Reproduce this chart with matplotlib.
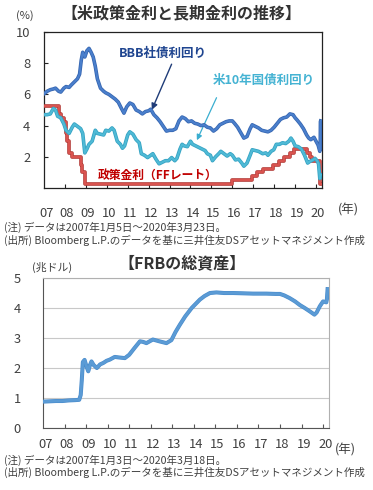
import matplotlib
matplotlib.use("Agg")
import matplotlib.pyplot as plt
import matplotlib.patheffects as pe

plt.rcParams['font.family'] = ['Noto Sans CJK JP', 'DejaVu Sans']

# --- data: top chart (year as decimal, %) ---
bbb_t = [2007.01, 2007.15, 2007.3, 2007.45, 2007.55, 2007.7, 2007.8, 2007.95,
         2008.05, 2008.2, 2008.3, 2008.45, 2008.6, 2008.7, 2008.78, 2008.85,
         2008.95, 2009.05, 2009.15, 2009.25, 2009.35, 2009.45, 2009.55, 2009.7,
         2009.85, 2009.95, 2010.1, 2010.25, 2010.4, 2010.55, 2010.7, 2010.82,
         2010.95, 2011.1, 2011.25, 2011.4, 2011.55, 2011.7, 2011.85, 2012.0,
         2012.1, 2012.25, 2012.4, 2012.55, 2012.7, 2012.85, 2013.0, 2013.15,
         2013.3, 2013.45, 2013.6, 2013.75, 2013.9, 2014.05, 2014.2, 2014.35,
         2014.5, 2014.65, 2014.8, 2014.95, 2015.1, 2015.25, 2015.4, 2015.55,
         2015.7, 2015.85, 2016.0, 2016.1, 2016.25, 2016.4, 2016.55, 2016.7,
         2016.85, 2016.95, 2017.1, 2017.25, 2017.4, 2017.55, 2017.7, 2017.85,
         2018.0, 2018.15, 2018.3, 2018.45, 2018.6, 2018.75, 2018.9, 2019.0,
         2019.1, 2019.25, 2019.4, 2019.55, 2019.65, 2019.75, 2019.9, 2020.0,
         2020.1, 2020.18, 2020.2, 2020.21, 2020.22]
bbb_v = [6.05, 6.2, 6.3, 6.35, 6.4, 6.2, 6.15, 6.4,
         6.5, 6.45, 6.6, 6.8, 7.0, 7.3, 8.2, 8.7,
         8.4, 8.8, 8.95, 8.7, 8.4, 7.8, 7.0, 6.4,
         6.2, 6.1, 6.0, 5.85, 5.7, 5.5, 5.1, 4.8,
         5.2, 5.45, 5.35, 5.0, 4.9, 4.75, 4.9, 4.95,
         5.05, 4.7, 4.5, 4.25, 3.95, 3.65, 3.7, 3.7,
         3.8, 4.3, 4.55, 4.45, 4.25, 4.3, 4.15, 4.1,
         4.0, 4.05, 3.9, 3.85, 3.65, 3.8, 4.05, 4.15,
         4.25, 4.3, 4.3, 4.15, 3.9, 3.55, 3.2, 3.3,
         3.8, 4.05, 3.95, 3.85, 3.7, 3.65, 3.6, 3.7,
         3.9, 4.15, 4.4, 4.5, 4.55, 4.75, 4.7, 4.5,
         4.35, 4.1, 3.8, 3.4, 3.2, 3.1, 3.25, 3.0,
         2.75, 2.35, 2.5, 4.25, 4.3]

ust_t = [2007.01, 2007.15, 2007.3, 2007.45, 2007.55, 2007.65, 2007.8, 2007.95,
         2008.05, 2008.2, 2008.35, 2008.45, 2008.6, 2008.75, 2008.85, 2008.95,
         2009.05, 2009.15, 2009.3, 2009.45, 2009.55, 2009.7, 2009.85, 2009.95,
         2010.1, 2010.25, 2010.35, 2010.5, 2010.65, 2010.75, 2010.85, 2011.0,
         2011.1, 2011.25, 2011.4, 2011.55, 2011.65, 2011.8, 2011.95, 2012.1,
         2012.2, 2012.35, 2012.5, 2012.65, 2012.8, 2012.95, 2013.1, 2013.25,
         2013.35, 2013.5, 2013.6, 2013.7, 2013.85, 2014.0, 2014.1, 2014.25,
         2014.4, 2014.55, 2014.7, 2014.8, 2014.95, 2015.05, 2015.2, 2015.35,
         2015.45, 2015.6, 2015.75, 2015.9, 2016.0, 2016.15, 2016.3, 2016.45,
         2016.55, 2016.7, 2016.85, 2016.95, 2017.1, 2017.25, 2017.45, 2017.6,
         2017.7, 2017.85, 2017.98, 2018.1, 2018.25, 2018.4, 2018.55, 2018.7,
         2018.8, 2018.9, 2019.0, 2019.15, 2019.3, 2019.45, 2019.6, 2019.7,
         2019.85, 2019.95, 2020.05, 2020.12, 2020.18, 2020.2, 2020.22]
ust_v = [4.7, 4.7, 4.75, 5.1, 5.0, 4.6, 4.5, 4.1,
         3.7, 3.5, 3.9, 4.1, 3.95, 3.8, 3.5, 2.25,
         2.5, 2.8, 3.0, 3.7, 3.5, 3.45, 3.4, 3.7,
         3.65, 3.85, 3.7, 3.0, 2.8, 2.55, 2.7, 3.4,
         3.6, 3.45, 3.1, 2.9, 2.2, 2.1, 1.95, 2.1,
         2.2, 1.85, 1.55, 1.65, 1.75, 1.75, 1.95, 1.75,
         1.9, 2.5, 2.8, 2.7, 2.65, 3.0, 2.8, 2.7,
         2.6, 2.5, 2.4, 2.2, 2.1, 1.75, 2.0, 2.2,
         2.35, 2.2, 2.05, 2.2, 2.1, 1.8, 1.85, 1.6,
         1.4, 1.6, 2.1, 2.45, 2.4, 2.35, 2.2, 2.25,
         2.1, 2.35, 2.45, 2.8, 2.8, 2.9, 2.85, 3.0,
         3.2, 3.0, 2.7, 2.65, 2.5, 2.1, 1.6, 1.7,
         1.8, 1.9, 1.75, 1.55, 0.6, 0.75, 0.85]

# policy rate (upper bound of target), change dates
ff_t = [2007.01, 2007.71, 2007.83, 2007.94, 2008.06, 2008.08, 2008.21, 2008.33,
        2008.77, 2008.83, 2008.96, 2015.96, 2016.95, 2017.2, 2017.45, 2017.95,
        2018.22, 2018.45, 2018.74, 2018.97, 2019.58, 2019.71, 2019.83, 2020.17,
        2020.2, 2020.22]
ff_v = [5.25, 4.75, 4.5, 4.25, 3.5, 3.0, 2.25, 2.0,
        1.5, 1.0, 0.25, 0.5, 0.75, 1.0, 1.25, 1.5,
        1.75, 2.0, 2.25, 2.5, 2.25, 2.0, 1.75, 1.25,
        0.25, 0.25]

# --- data: bottom chart (FRB total assets, trillion USD) ---
frb_t = [2007.01, 2007.3, 2007.6, 2007.9, 2008.2, 2008.5, 2008.68, 2008.75,
         2008.8, 2008.85, 2008.93, 2009.02, 2009.1, 2009.18, 2009.25, 2009.35,
         2009.5, 2009.65, 2009.8, 2009.95, 2010.1, 2010.33, 2010.55, 2010.8,
         2011.0, 2011.25, 2011.5, 2011.65, 2011.8, 2012.1, 2012.4, 2012.73,
         2012.96, 2013.15, 2013.35, 2013.6, 2013.9, 2014.28, 2014.5, 2014.75,
         2015.05, 2015.4, 2015.83, 2016.3, 2016.75, 2017.37, 2017.8, 2018.0,
         2018.2, 2018.45, 2018.7, 2018.92, 2019.15, 2019.38, 2019.6, 2019.7,
         2019.85, 2020.0, 2020.15, 2020.18, 2020.21]
frb_v = [0.88, 0.89, 0.9, 0.9, 0.92, 0.93, 0.94, 1.1,
         1.6, 2.2, 2.27, 2.05, 1.89, 2.1, 2.22, 2.1,
         2.0, 2.12, 2.17, 2.24, 2.28, 2.37, 2.35, 2.33,
         2.44, 2.67, 2.89, 2.87, 2.83, 2.95, 2.89, 2.83,
         2.93, 3.2, 3.44, 3.72, 4.0, 4.28, 4.4, 4.5,
         4.52, 4.5, 4.5, 4.49, 4.48, 4.48, 4.47, 4.47,
         4.42, 4.33, 4.22, 4.1, 4.0, 3.89, 3.78, 3.85,
         4.06, 4.22, 4.19, 4.3, 4.63]

years = list(range(2007, 2021))
year_labels = ['%02d' % (y % 100) for y in years]

TXT = '#404040'
NOTE_FS = 7.6
TICK_FS = 9.3

fig = plt.figure(figsize=(3.73, 4.9), dpi=100)

# ---------------- top chart ----------------
ax1 = fig.add_axes([0.118, 0.6163, 0.745, 0.3184])
shadow = lambda c: [pe.Stroke(linewidth=2.6, foreground=c), pe.Normal()]
ax1.plot(ff_t, ff_v, drawstyle='steps-post', color='#d9534f', lw=1.6,
         path_effects=shadow('#b03a36'), zorder=3)
ax1.plot(ust_t, ust_v, color='#4fbad6', lw=1.5,
         path_effects=shadow('#34a2c2'), zorder=4)
ax1.plot(bbb_t, bbb_v, color='#4a7fcc', lw=1.5,
         path_effects=shadow('#3565b0'), zorder=5)

ax1.set_xlim(2007.0, 2020.28)
ax1.set_ylim(0, 10)
ax1.set_yticks([2, 4, 6, 8, 10])
ax1.tick_params(axis='y', direction='in', length=3, pad=10, labelsize=TICK_FS,
                labelcolor=TXT, color='#222222')
ax1.set_xticks(years[1:])
ax1.set_xticks([y + 0.1 for y in years], minor=True)
ax1.set_xticklabels(year_labels, minor=True)
ax1.tick_params(axis='x', which='major', direction='in', length=3,
                labelbottom=False, color='#222222')
ax1.tick_params(axis='x', which='minor', length=0, pad=14, labelsize=TICK_FS,
                labelcolor=TXT)
for s in ax1.spines.values():
    s.set_color('#222222')
    s.set_linewidth(0.9)

ax1.annotate('', xy=(2012.1, 4.85), xytext=(2013.15, 8.1),
             arrowprops=dict(arrowstyle='-|>', color='#1f3c78', lw=1.0,
                             mutation_scale=9))
ax1.annotate('', xy=(2014.25, 2.9), xytext=(2015.3, 5.95),
             arrowprops=dict(arrowstyle='-|>', color='#3aaed0', lw=0.9,
                             mutation_scale=8))
ax1.text(2012.7, 8.6, 'BBB社債利回り', color='#1f4590', fontsize=9,
         fontweight='bold', ha='center', va='center')
ax1.text(2017.5, 6.92, '米10年国債利回り', color='#45b3d3', fontsize=9,
         fontweight='bold', ha='center', va='center')
ax1.text(2012.45, 0.83, '政策金利（FFレート）', color='#c00000', fontsize=8.5,
         fontweight='bold', ha='center', va='center')

fig.text(0.487, 0.973, '【米政策金利と長期金利の推移】', fontsize=11.5,
         fontweight='bold', color='#333333', ha='center', va='center')
fig.text(0.067, 0.969, '(%)', fontsize=8, color=TXT, ha='center', va='center')
fig.text(0.933, 0.571, '(年)', fontsize=9, color=TXT, ha='center', va='center')
fig.text(0.01, 0.535, '(注) データは2007年1月5日～2020年3月23日。',
         fontsize=NOTE_FS, color=TXT, ha='left', va='center')
fig.text(0.01, 0.51, '(出所) Bloomberg L.P.のデータを基に三井住友DSアセットマネジメント作成',
         fontsize=NOTE_FS, color=TXT, ha='left', va='center')

# ---------------- bottom chart ----------------
ax2 = fig.add_axes([0.1153, 0.1265, 0.767, 0.3061])
ax2.plot(frb_t, frb_v, color='#5b9bd5', lw=2.0,
         path_effects=[pe.Stroke(linewidth=2.9, foreground='#4a8ccc'), pe.Normal()],
         zorder=3)
ax2.set_xlim(2007.0, 2020.28)
ax2.set_ylim(0, 5)
ax2.set_yticks([0, 1, 2, 3, 4, 5])
ax2.grid(axis='y', color='#c8c8c8', lw=0.8)
ax2.tick_params(axis='y', length=0, pad=16, labelsize=TICK_FS, labelcolor=TXT)
ax2.set_xticks(years[1:])
ax2.set_xticks([y + 0.1 for y in years], minor=True)
ax2.set_xticklabels(year_labels, minor=True)
ax2.tick_params(axis='x', which='major', direction='in', length=3,
                labelbottom=False, color='#555555')
ax2.tick_params(axis='x', which='minor', length=0, pad=7, labelsize=TICK_FS,
                labelcolor=TXT)
ax2.spines['left'].set_color('#555555')
ax2.spines['bottom'].set_color('#555555')
ax2.spines['top'].set_color('#b0b0b0')
ax2.spines['right'].set_color('#b0b0b0')

fig.text(0.488, 0.463, '【FRBの総資産】', fontsize=11.5, fontweight='bold',
         color='#333333', ha='center', va='center')
fig.text(0.14, 0.455, '(兆ドル)', fontsize=7.8, color=TXT, ha='center', va='center')
fig.text(0.925, 0.082, '(年)', fontsize=9, color=TXT, ha='center', va='center')
fig.text(0.01, 0.061, '(注) データは2007年1月3日～2020年3月18日。',
         fontsize=NOTE_FS, color=TXT, ha='left', va='center')
fig.text(0.01, 0.035, '(出所) Bloomberg L.P.のデータを基に三井住友DSアセットマネジメント作成',
         fontsize=NOTE_FS, color=TXT, ha='left', va='center')

fig.savefig('out.png', dpi=100)
